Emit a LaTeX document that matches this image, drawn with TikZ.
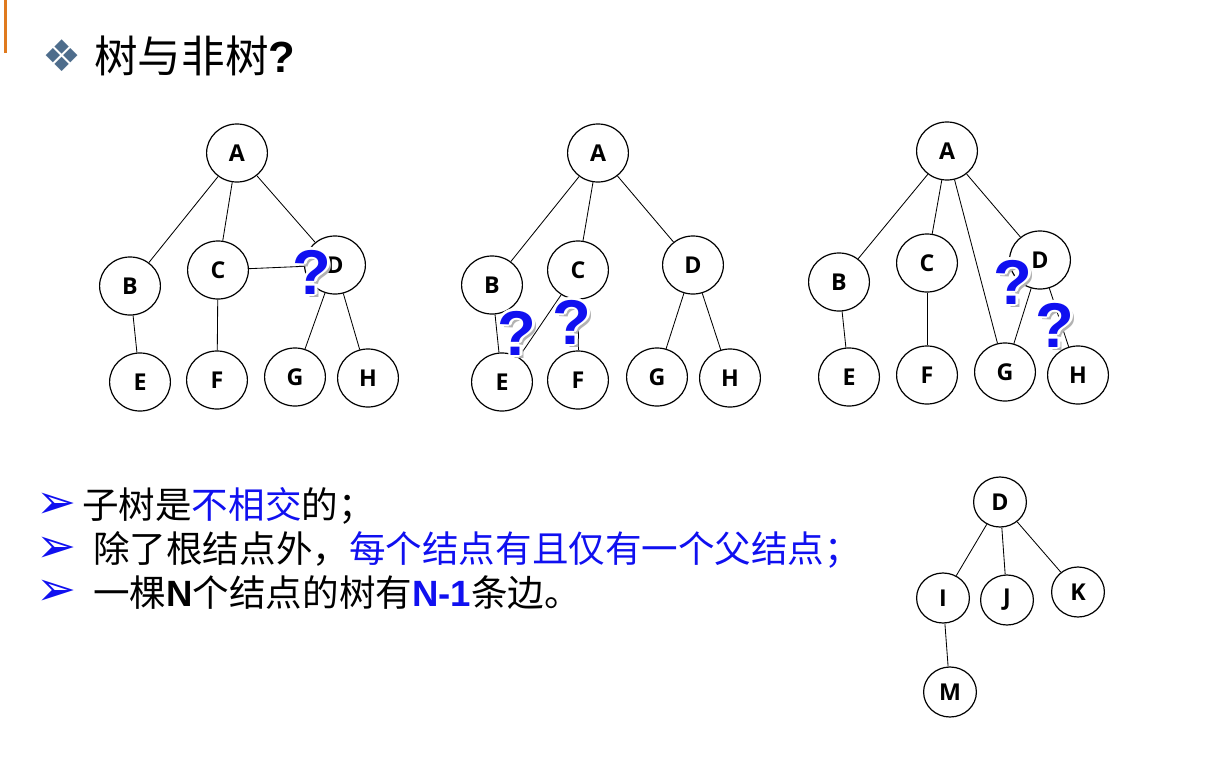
\documentclass[tikz,border=0pt]{standalone}
\usepackage{fontspec}
\setmainfont{Liberation Sans}
\newfontfamily\cjk{Noto Sans CJK SC}
\newfontfamily\dingfont{DejaVu Sans}
\newfontfamily\letterfont{Open Sans}
\usetikzlibrary{shapes.geometric}
\definecolor{qblue}{HTML}{1010F0}
\definecolor{diamondgray}{HTML}{4E6D8C}
\definecolor{barorange}{HTML}{E07A1E}

\newcommand{\latb}[1]{{\rmfamily\bfseries #1}}
% question mark with white halo
\newcommand{\qmark}[2]{%
    \node[qmarkstyle,text=black!30,xshift=2.4pt,yshift=-2.4pt] at (#2) {?};
    \foreach \dx/\dy in {1.8/0,-1.8/0,0/1.8,0/-1.8,1.3/1.3,-1.3/1.3,1.3/-1.3,-1.3/-1.3}
        \node[qmarkstyle,text=white,xshift=\dx pt,yshift=\dy pt] at (#2) {?};
    \node[qmarkstyle,text=qblue] (#1) at (#2) {?};
}

\begin{document}
\begin{tikzpicture}[
    x=0.025cm, y=-0.025cm,
    vertex/.style={
        ellipse,
        draw=black,
        line width=0.85pt,
        fill=white,
        minimum width=1.52cm,
        minimum height=1.45cm,
        inner sep=0pt,
        font=\letterfont\bfseries\fontsize{16.5}{18}\selectfont,
    },
    smallvertex/.style={vertex,minimum width=1.32cm,minimum height=1.25cm},
    edge/.style={line width=0.6pt,draw=black},
    qmarkstyle/.style={font=\rmfamily\bfseries\fontsize{45}{48}\selectfont,inner sep=0pt},
    bullet/.style={font=\dingfont\fontsize{34}{36}\selectfont,text=qblue,inner sep=0pt},
    line/.style={font=\cjk\fontsize{26}{30}\selectfont,anchor=west,inner sep=0pt},
]
\useasboundingbox (0,0) rectangle (1219,783);

% === Title ===
\fill[barorange] (4,0) rectangle (7,53);
\node[font=\dingfont\fontsize{31}{32}\selectfont,text=diamondgray,inner sep=0pt] (dia) at (62,56) {❖};
\node[font=\cjk\fontsize{31}{34}\selectfont,anchor=west,inner sep=0pt] (title) at (94,56)
    {树与非树\latb{?}};

% === Tree 1 ===
\node[vertex] (a1) at (237,153) {A};
\node[vertex] (b1) at (130,286) {B};
\node[vertex] (c1) at (218,270) {C};
\node[vertex] (d1) at (335,265) {D};
\node[vertex] (e1) at (140,382) {E};
\node[vertex] (f1) at (217,380) {F};
\node[vertex] (g1) at (295,377) {G};
\node[vertex] (h1) at (368,378) {H};

\draw[edge] (a1) -- (b1);
\draw[edge] (a1) -- (c1);
\draw[edge] (a1) -- (d1);
\draw[edge] (b1) -- (e1);
\draw[edge] (c1) -- (f1);
\draw[edge] (c1) -- (d1);
\draw[edge] (d1) -- (g1);
\draw[edge] (d1) -- (h1);

% === Tree 2 ===
\node[vertex] (a2) at (598,153) {A};
\node[vertex] (b2) at (492,285) {B};
\node[vertex] (c2) at (578,270) {C};
\node[vertex] (d2) at (693,265) {D};
\node[vertex] (e2) at (502,382) {E};
\node[vertex] (f2) at (578,380) {F};
\node[vertex] (g2) at (657,377) {G};
\node[vertex] (h2) at (730,378) {H};

\draw[edge] (a2) -- (b2);
\draw[edge] (a2) -- (c2);
\draw[edge] (a2) -- (d2);
\draw[edge] (b2) -- (e2);
\draw[edge] (c2) -- (e2);
\draw[edge] (c2) -- (f2);
\draw[edge] (d2) -- (g2);
\draw[edge] (d2) -- (h2);

% === Tree 3 ===
\node[vertex] (a3) at (947,151) {A};
\node[vertex] (b3) at (839,282) {B};
\node[vertex] (c3) at (927,263) {C};
\node[vertex] (d3) at (1040,260) {D};
\node[vertex] (e3) at (849,377) {E};
\node[vertex] (f3) at (927,375) {F};
\node[vertex] (g3) at (1005,372) {G};
\node[vertex] (h3) at (1078,375) {H};

\draw[edge] (a3) -- (b3);
\draw[edge] (a3) -- (c3);
\draw[edge] (a3) -- (g3);
\draw[edge] (a3) -- (d3);
\draw[edge] (b3) -- (e3);
\draw[edge] (c3) -- (f3);
\draw[edge] (d3) -- (g3);
\draw[edge] (d3) -- (h3);

% === Question marks ===
\qmark{q1}{312,272}
\qmark{q2}{517,333}
\qmark{q3}{572,322}
\qmark{q4}{1013,282}
\qmark{q5}{1055,325}

% === Tree 4 ===
\node[smallvertex] (d4) at (1000,502) {D};
\node[smallvertex] (i4) at (943,598) {I};
\node[smallvertex] (j4) at (1007,600) {J};
\node[smallvertex] (k4) at (1078,592) {K};
\node[smallvertex] (m4) at (950,692) {M};

\draw[edge] (d4) -- (i4);
\draw[edge] (d4) -- (j4);
\draw[edge] (d4) -- (k4);
\draw[edge] (i4) -- (m4);

% === Bullet list ===
\node[bullet] (b1st) at (57,506) {➢};
\node[bullet] (b2nd) at (57,550) {➢};
\node[bullet] (b3rd) at (57,593) {➢};

\node[line] (l1) at (82,506) {子树是\textcolor{qblue}{不相交}的；};
\node[line] (l2) at (93,550) {除了根结点外，\textcolor{qblue}{每个结点有且仅有一个父结点；}};
\node[line] (l3) at (93,593) {一棵\latb{N}个结点的树有\textcolor{qblue}{\latb{N-1}}条边。};

\end{tikzpicture}
\end{document}
